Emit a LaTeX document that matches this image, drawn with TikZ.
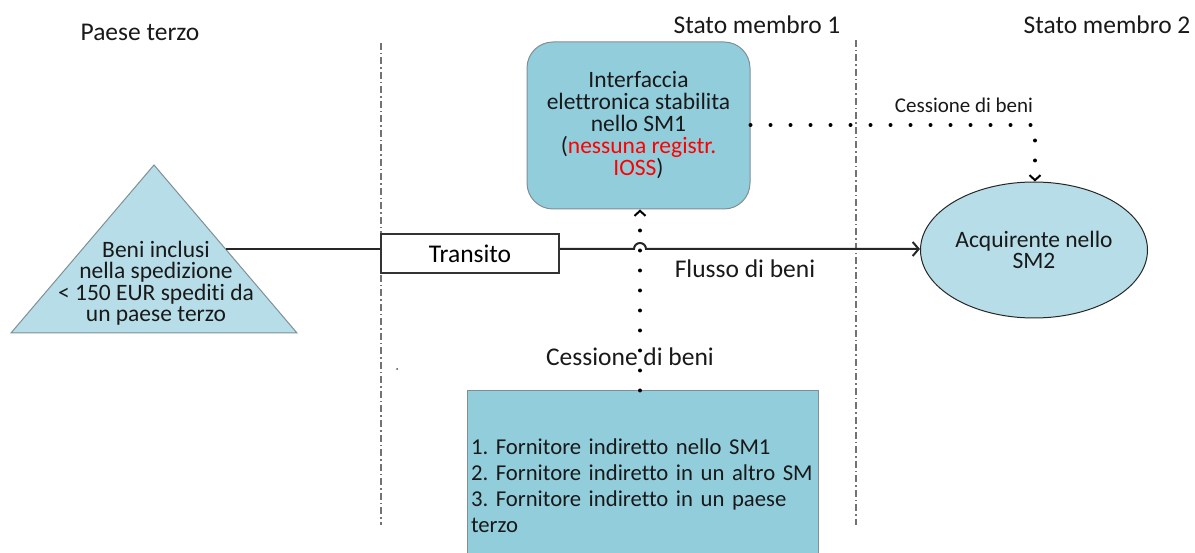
\documentclass[tikz,border=0pt]{standalone}
\usepackage{fontspec}
\setmainfont{Carlito}[Ligatures=NoCommon]
\usetikzlibrary{arrows.meta,calc,shapes.geometric}
\definecolor{lightsea}{HTML}{B7DEE8}
\definecolor{darksea}{HTML}{92CDDC}
\definecolor{edgegrey}{HTML}{7F8F96}
\frenchspacing
\begin{document}
\begin{tikzpicture}[x=1pt,y=-1pt,
  font=\fontsize{25.5}{28}\selectfont,
  label/.style={inner sep=0pt, text=black!90},
  boxtext/.style={font=\fontsize{23.5}{21.5}\selectfont, text=black!90},
  border/.style={draw=black!55, line width=1.3pt, dash pattern=on 7pt off 3pt on 1.5pt off 3pt},
  dots/.style={line width=4pt, line cap=round, dash pattern=on 0pt off 20pt,
    -{Straight Barb[line width=2pt, length=5pt, width=11pt]}},
  flow/.style={line width=2pt, black!85},
  seabox/.style={draw=edgegrey, line width=1pt, fill=darksea}]
\useasboundingbox (0,0) rectangle (1195,553);
% frontiere
\draw[border] (381,43) -- (381,525);
\draw[border] (856,40) -- (856,525);
\node[label] (paese) at (140,32) {Paese terzo};
\node[label] (sm1) at (757,25) {Stato membro 1};
\node[label] (sm2) at (1107,25) {Stato membro 2};
% beni
\coordinate (apex) at (154,165);
\coordinate (baseL) at (11,333);
\coordinate (baseR) at (297,333);
\draw[draw=edgegrey, line width=1pt, fill=lightsea] (apex) -- (baseR) -- (baseL) -- cycle;
\node[label, boxtext, align=center] (beni) at (156,283) {Beni inclusi\\nella spedizione\\< 150 EUR spediti da\\un paese terzo};
\coordinate (beniout) at ($(apex)!0.5!(baseR)$);
\node[draw=black!80, line width=1.6pt, minimum width=178pt, minimum height=39pt, inner sep=0pt] (transito) at (470,253.5) {Transito};
\node[ellipse, draw=black!85, line width=1pt, fill=lightsea, minimum width=227pt, minimum height=136pt, align=center, inner sep=0pt, boxtext] (acquirente) at (1034,250) {Acquirente nello\\SM2};
\node[seabox, rounded corners=26pt, minimum width=223pt, minimum height=167pt, align=center, inner sep=0pt, boxtext, font=\fontsize{23.5}{22}\selectfont] (interfaccia) at (638.5,125.5) {Interfaccia\\elettronica stabilita\\nello SM1\\({\color{red}nessuna registr.}\\{\color{red}IOSS})};
\node[seabox, minimum width=351pt, minimum height=190pt, text width=343pt, align=left, inner sep=4pt, font=\fontsize{22.7}{26}\selectfont, text=black!90] (fornitore) at (642.5,486) {1. Fornitore indiretto nello SM1\\2. Fornitore indiretto in un altro SM\\3. Fornitore indiretto in un paese\\terzo};
% flusso di beni
\draw[flow] (beniout) -- (beniout -| transito.west);
\draw[flow, -{Straight Barb[length=6pt, width=14pt]}] ([yshift=4.5pt]transito.east) -- (634,249) arc[start angle=180, end angle=360, radius=6] -- (acquirente.west |- 0,249);
\node[label] (flusso) at (745,269) {Flusso di beni};
% cessioni
\draw[dots] (interfaccia.east |- 0,125) -- (1035,125) -- (acquirente.north -| 1035,0);
\node[label, font=\fontsize{21}{23}\selectfont] (cessione1) at (964,105) {Cessione di beni};
\draw[dots] (fornitore.north -| 640,0) -- (interfaccia.south -| 640,0);
\node[label] (cessione2) at (630,357) {Cessione di beni};
\fill[black!70] (397,369) circle (1pt);
\end{tikzpicture}
\end{document}
